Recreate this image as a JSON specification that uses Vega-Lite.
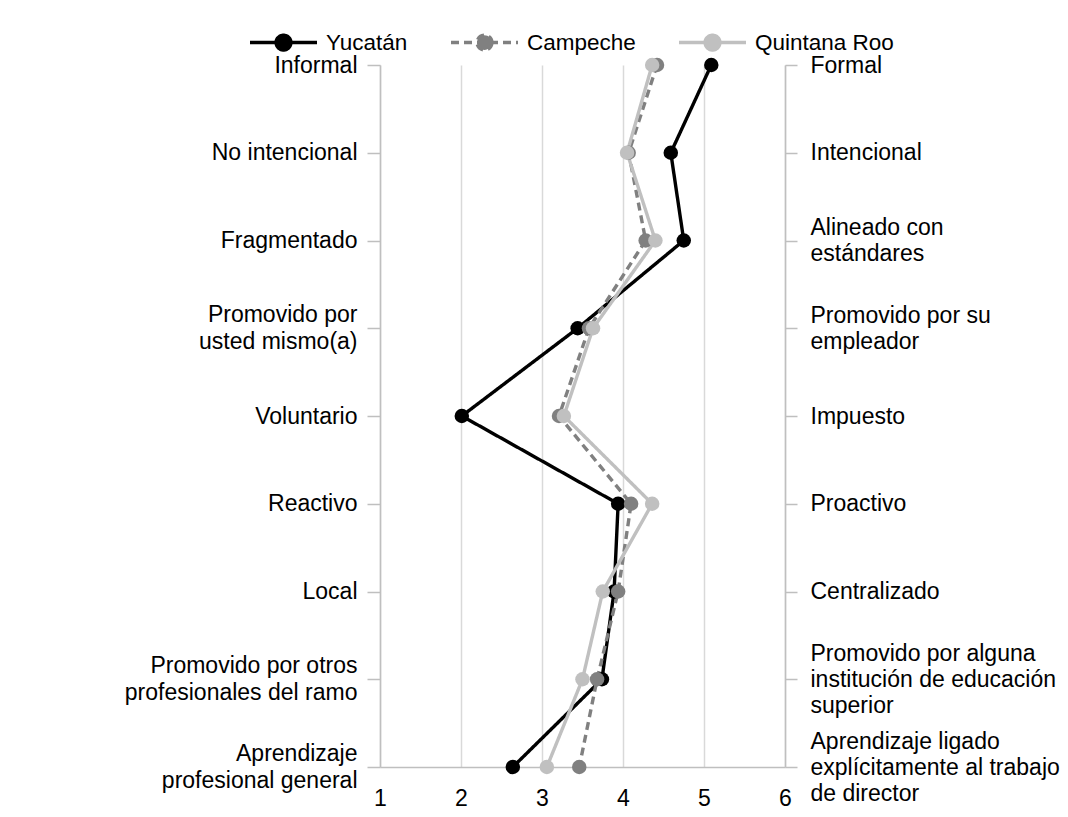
{
  "$schema": "https://vega.github.io/schema/vega-lite/v6.json",
  "autosize": "none",
  "width": 405,
  "height": 702,
  "padding": {"left": 380, "top": 65, "right": 283, "bottom": 50},
  "background": "white",
  "config": {
    "font": "Liberation Sans",
    "view": {"stroke": null},
    "axis": {"labelFont": "Liberation Sans", "labelFontSize": 23, "labelColor": "#000000", "titleFont": "Liberation Sans", "labelLimit": 0},
    "legend": {"labelFont": "Liberation Sans", "labelFontSize": 22.5, "labelColor": "#000000", "labelLimit": 0}
  },
  "data": {
    "values": [
      {"row": 1, "left": "Informal", "right": "Formal", "state": "Yucatán", "value": 5.09},
      {"row": 2, "left": "No intencional", "right": "Intencional", "state": "Yucatán", "value": 4.59},
      {"row": 3, "left": "Fragmentado", "right": "Alineado con|estándares", "state": "Yucatán", "value": 4.75},
      {"row": 4, "left": "Promovido por|usted mismo(a)", "right": "Promovido por su|empleador", "state": "Yucatán", "value": 3.44},
      {"row": 5, "left": "Voluntario", "right": "Impuesto", "state": "Yucatán", "value": 2.01},
      {"row": 6, "left": "Reactivo", "right": "Proactivo", "state": "Yucatán", "value": 3.94},
      {"row": 7, "left": "Local", "right": "Centralizado", "state": "Yucatán", "value": 3.89},
      {"row": 8, "left": "Promovido por otros|profesionales del ramo", "right": "Promovido por alguna|institución de educación|superior", "state": "Yucatán", "value": 3.74},
      {"row": 9, "left": "Aprendizaje|profesional general", "right": "Aprendizaje ligado|explícitamente al trabajo|de director", "state": "Yucatán", "value": 2.64},
      {"row": 1, "left": "Informal", "right": "Formal", "state": "Campeche", "value": 4.42},
      {"row": 2, "left": "No intencional", "right": "Intencional", "state": "Campeche", "value": 4.07},
      {"row": 3, "left": "Fragmentado", "right": "Alineado con|estándares", "state": "Campeche", "value": 4.28},
      {"row": 4, "left": "Promovido por|usted mismo(a)", "right": "Promovido por su|empleador", "state": "Campeche", "value": 3.58},
      {"row": 5, "left": "Voluntario", "right": "Impuesto", "state": "Campeche", "value": 3.21},
      {"row": 6, "left": "Reactivo", "right": "Proactivo", "state": "Campeche", "value": 4.10},
      {"row": 7, "left": "Local", "right": "Centralizado", "state": "Campeche", "value": 3.94},
      {"row": 8, "left": "Promovido por otros|profesionales del ramo", "right": "Promovido por alguna|institución de educación|superior", "state": "Campeche", "value": 3.68},
      {"row": 9, "left": "Aprendizaje|profesional general", "right": "Aprendizaje ligado|explícitamente al trabajo|de director", "state": "Campeche", "value": 3.46},
      {"row": 1, "left": "Informal", "right": "Formal", "state": "Quintana Roo", "value": 4.36},
      {"row": 2, "left": "No intencional", "right": "Intencional", "state": "Quintana Roo", "value": 4.05},
      {"row": 3, "left": "Fragmentado", "right": "Alineado con|estándares", "state": "Quintana Roo", "value": 4.40},
      {"row": 4, "left": "Promovido por|usted mismo(a)", "right": "Promovido por su|empleador", "state": "Quintana Roo", "value": 3.63},
      {"row": 5, "left": "Voluntario", "right": "Impuesto", "state": "Quintana Roo", "value": 3.27},
      {"row": 6, "left": "Reactivo", "right": "Proactivo", "state": "Quintana Roo", "value": 4.36},
      {"row": 7, "left": "Local", "right": "Centralizado", "state": "Quintana Roo", "value": 3.75},
      {"row": 8, "left": "Promovido por otros|profesionales del ramo", "right": "Promovido por alguna|institución de educación|superior", "state": "Quintana Roo", "value": 3.50},
      {"row": 9, "left": "Aprendizaje|profesional general", "right": "Aprendizaje ligado|explícitamente al trabajo|de director", "state": "Quintana Roo", "value": 3.06}
    ]
  },
  "layer": [
    {
      "encoding": {
        "x": {
          "field": "value", "type": "quantitative",
          "scale": {"domain": [1, 6], "nice": false, "zero": false},
          "axis": {
            "title": null, "values": [1, 2, 3, 4, 5, 6], "grid": true,
            "gridColor": "#d9d9d9", "gridWidth": 1.5,
            "domainColor": "#bfbfbf", "domainWidth": 1.5,
            "ticks": false, "labelPadding": 20, "labelFlush": false
          }
        },
        "y": {
          "field": "left", "type": "ordinal",
          "sort": {"field": "row", "op": "min"},
          "scale": {"type": "point", "padding": 0},
          "axis": {
            "title": null, "orient": "left", "grid": false,
            "domainColor": "#bfbfbf", "domainWidth": 1.5,
            "tickColor": "#bfbfbf", "tickWidth": 1.5, "tickSize": 13,
            "labelPadding": 10, "labelExpr": "split(datum.label, '|')",
            "labelOffset": {"expr": "-(length(split(datum.label, '|')) - 1) * 13.5"},
            "labelLineHeight": 27, "labelBaseline": "middle", "labelAlign": "right"
          }
        },
        "color": {
          "field": "state", "type": "nominal",
          "scale": {"domain": ["Yucatán", "Campeche", "Quintana Roo"], "range": ["#000000", "#808080", "#c0c0c0"]},
          "legend": {
            "title": null, "orient": "none", "direction": "horizontal",
            "legendX": -132, "legendY": -58,
            "symbolType": "M-1,0H1M0.22,0A0.22,0.22,0,1,1,-0.22,0A0.22,0.22,0,1,1,0.22,0",
            "symbolSize": 4489, "symbolStrokeWidth": 3.5,
            "labelOffset": 7, "columnPadding": 36,
            "encode": {
              "symbols": {
                "update": {
                  "fill": {"scale": "color", "field": "value"},
                  "stroke": {"scale": "color", "field": "value"},
                  "strokeDash": {"signal": "datum.value === 'Campeche' ? [8, 5] : [1, 0]"}
                }
              }
            }
          }
        }
      },
      "layer": [
        {
          "mark": {"type": "line", "strokeWidth": 3.4},
          "encoding": {
            "order": {"field": "row", "type": "quantitative"},
            "strokeDash": {
              "field": "state", "type": "nominal",
              "scale": {"domain": ["Yucatán", "Campeche", "Quintana Roo"], "range": [[1, 0], [8, 5], [1, 0]]},
              "legend": null
            }
          }
        },
        {
          "mark": {"type": "point", "filled": true, "opacity": 1, "size": 210}
        }
      ]
    },
    {
      "mark": {"type": "point", "opacity": 0},
      "encoding": {
        "y": {
          "field": "right", "type": "ordinal",
          "sort": {"field": "row", "op": "min"},
          "scale": {"type": "point", "padding": 0},
          "axis": {
            "title": null, "orient": "right", "grid": false,
            "domainColor": "#bfbfbf", "domainWidth": 1.5,
            "tickColor": "#bfbfbf", "tickWidth": 1.5, "tickSize": 12,
            "labelPadding": 13, "labelExpr": "split(datum.label, '|')",
            "labelOffset": {"expr": "-(length(split(datum.label, '|')) - 1) * 13"},
            "labelLineHeight": 26, "labelBaseline": "middle", "labelAlign": "left"
          }
        }
      }
    }
  ],
  "resolve": {"scale": {"y": "independent"}, "axis": {"y": "independent"}}
}
